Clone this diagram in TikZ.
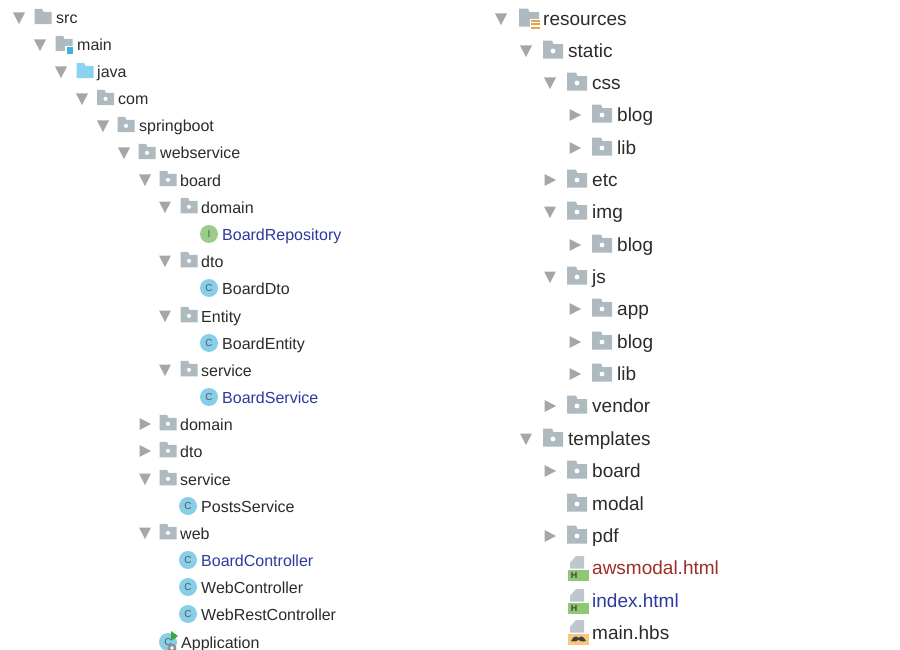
\documentclass[tikz,border=0pt]{standalone}
\usepackage{fontspec}
\setmainfont{Liberation Sans}
\definecolor{tri}{HTML}{A6A6A6}
\definecolor{fold}{HTML}{AEB9C0}
\definecolor{srcblue}{HTML}{8AD3EE}
\definecolor{cyanc}{HTML}{87CFE8}
\definecolor{greeni}{HTML}{9CCB8C}
\definecolor{txt}{HTML}{2B2B2B}
\definecolor{navy}{HTML}{2C3A9E}
\definecolor{brick}{HTML}{9C2F28}
\definecolor{htmlg}{HTML}{8FC873}
\definecolor{hbs}{HTML}{F6C67C}
\definecolor{resor}{HTML}{E2A54E}
\definecolor{runb}{HTML}{3FB0E0}
\tikzset{
  x=1pt,y=-1pt,
  ltxt/.style={anchor=west,inner sep=0pt,yshift=-1.5pt,text=txt,font=\fontsize{16}{20}\selectfont,text height=12.5pt,text depth=3.5pt},
  rtxt/.style={anchor=west,inner sep=0pt,yshift=-1.5pt,text=txt,font=\fontsize{19}{22}\selectfont,text height=14pt,text depth=4pt},
  tribody/.style={fill=tri,draw=none},
  foldbody/.style={fill=fold,draw=none}
}
% triangles (cx, cy)
\newcommand{\tdn}[2]{\fill[tribody] (#1-6,#2-5.5) -- (#1+6,#2-5.5) -- (#1,#2+6) -- cycle;}
\newcommand{\trt}[2]{\fill[tribody] (#1-5.5,#2-6) -- (#1+6,#2) -- (#1-5.5,#2+6) -- cycle;}
% plain folder shape: centre, half width, colour
\newcommand{\fshape}[4]{\fill[#4] (#1-#3,#2-0.4-0.9*#3) -- (#1-0.1*#3,#2-0.4-0.9*#3) -- (#1+0.05*#3,#2-0.4-0.55*#3) -- (#1+#3,#2-0.4-0.55*#3) -- (#1+#3,#2-0.4+0.9*#3) -- (#1-#3,#2-0.4+0.9*#3) -- cycle;}
\newcommand{\pkg}[3]{\fshape{#1}{#2}{#3}{fold}\fill[white] (#1,#2+0.1*#3) circle (0.24*#3);}
\newcommand{\cls}[4]{\fill[#3] (#1,#2) circle (9); \node[inner sep=0pt,text=black!65,font=\fontsize{10}{10}\selectfont] at (#1,#2) {#4};}
\newcommand{\doc}[4]{\fill[fold!80] (#1-3,#2-14) -- (#1+5,#2-14) -- (#1+5,#2-1.5) -- (#1-9,#2-1.5) -- (#1-9,#2-7) -- cycle;
  \fill[#3] (#1-11,#2) rectangle (#1+10,#2+11);#4}
\begin{document}
\begin{tikzpicture}
\useasboundingbox (0,0) rectangle (900,650);
\fill[white] (0,0) rectangle (900,650);
% left column
\tdn{19}{18}\fshape{43}{17}{8.5}{fold}\node[ltxt] (src) at (56,18) {src};
\tdn{40}{45}\fshape{64}{44}{8.5}{fold}\fill[white] (65,46) rectangle (74,55);\fill[runb] (66.5,47) rectangle (73,54);\node[ltxt] (main) at (77,45) {main};
\tdn{61}{72}\fshape{85}{71}{8.5}{srcblue}\node[ltxt] (java) at (97,72) {java};
\tdn{82}{99}\pkg{105.5}{98}{8.5}\node[ltxt] (com) at (118,99) {com};
\tdn{103}{126}\pkg{126}{125}{8.5}\node[ltxt] (springboot) at (139,126) {springboot};
\tdn{124}{153}\pkg{147}{152}{8.5}\node[ltxt] (webservice) at (160,153) {webservice};
\tdn{145}{180}\pkg{168}{179}{8.5}\node[ltxt] (board) at (180,180) {board};
\tdn{165}{207}\pkg{189}{206}{8.5}\node[ltxt] (domain1) at (201,207) {domain};
\cls{209}{234}{greeni}{I}\node[ltxt,text=navy] (boardrepo) at (222,234) {BoardRepository};
\tdn{165}{261}\pkg{189}{260}{8.5}\node[ltxt] (dto1) at (201,261) {dto};
\cls{209}{288}{cyanc}{C}\node[ltxt] (boarddto) at (222,288) {BoardDto};
\tdn{165}{316}\pkg{189}{315}{8.5}\node[ltxt] (entity) at (201,316) {Entity};
\cls{209}{343}{cyanc}{C}\node[ltxt] (boardentity) at (222,343) {BoardEntity};
\tdn{165}{370}\pkg{189}{369}{8.5}\node[ltxt] (service1) at (201,370) {service};
\cls{209}{397}{cyanc}{C}\node[ltxt,text=navy] (boardservice) at (222,397) {BoardService};
\trt{145}{424}\pkg{168}{423}{8.5}\node[ltxt] (domain2) at (180,424) {domain};
\trt{145}{451}\pkg{168}{450}{8.5}\node[ltxt] (dto2) at (180,451) {dto};
\tdn{145}{479}\pkg{168}{478}{8.5}\node[ltxt] (service2) at (180,479) {service};
\cls{188}{506}{cyanc}{C}\node[ltxt] (postsservice) at (201,506) {PostsService};
\tdn{145}{533}\pkg{168}{532}{8.5}\node[ltxt] (web) at (180,533) {web};
\cls{188}{560}{cyanc}{C}\node[ltxt,text=navy] (boardcontroller) at (201,560) {BoardController};
\cls{188}{587}{cyanc}{C}\node[ltxt] (webcontroller) at (201,587) {WebController};
\cls{188}{614}{cyanc}{C}\node[ltxt] (webrest) at (201,614) {WebRestController};
\cls{168}{642}{cyanc}{C}\fill[fold!80!black] (172,648) circle (4.5);\fill[white] (172,648) circle (1.8);\fill[green!60!black!80] (171,631) -- (178,636) -- (171,641) -- cycle;\node[ltxt] (application) at (181,642) {Application};
% right column
\tdn{501}{19}\fshape{529}{18}{10}{fold}\fill[white] (530,19) rectangle (541,31);\foreach \yy in {20,23.5,27}{\fill[resor] (531,\yy) rectangle (540,\yy+2);}\node[rtxt] (resources) at (543,19) {resources};
\tdn{526}{51}\pkg{553}{50}{10}\node[rtxt] (static) at (568,51) {static};
\tdn{550}{83}\pkg{577}{82}{10}\node[rtxt] (css) at (592,83) {css};
\trt{575}{115}\pkg{602}{114}{10}\node[rtxt] (cssblog) at (617,115) {blog};
\trt{575}{148}\pkg{602}{147}{10}\node[rtxt] (csslib) at (617,148) {lib};
\trt{550}{180}\pkg{577}{179}{10}\node[rtxt] (etc) at (592,180) {etc};
\tdn{550}{212}\pkg{577}{211}{10}\node[rtxt] (img) at (592,212) {img};
\trt{575}{245}\pkg{602}{244}{10}\node[rtxt] (imgblog) at (617,245) {blog};
\tdn{550}{277}\pkg{577}{276}{10}\node[rtxt] (js) at (592,277) {js};
\trt{575}{309}\pkg{602}{308}{10}\node[rtxt] (jsapp) at (617,309) {app};
\trt{575}{342}\pkg{602}{341}{10}\node[rtxt] (jsblog) at (617,342) {blog};
\trt{575}{374}\pkg{602}{373}{10}\node[rtxt] (jslib) at (617,374) {lib};
\trt{550}{406}\pkg{577}{405}{10}\node[rtxt] (vendor) at (592,406) {vendor};
\tdn{526}{439}\pkg{553}{438}{10}\node[rtxt] (templates) at (568,439) {templates};
\trt{550}{471}\pkg{577}{470}{10}\node[rtxt] (tboard) at (592,471) {board};
\pkg{577}{503}{10}\node[rtxt] (modal) at (592,504) {modal};
\trt{550}{536}\pkg{577}{535}{10}\node[rtxt] (pdf) at (592,536) {pdf};
\doc{579}{570}{htmlg}{\node[inner sep=0pt,text=black!75,font=\bfseries\fontsize{9}{9}\selectfont] at (574,575.5) {H};}\node[rtxt,text=brick] (awsmodal) at (592,568) {awsmodal.html};
\doc{579}{603}{htmlg}{\node[inner sep=0pt,text=black!75,font=\bfseries\fontsize{9}{9}\selectfont] at (574,608.5) {H};}\node[rtxt,text=navy] (index) at (592,601) {index.html};
\doc{579}{634}{hbs}{\fill[black!75] (571,641) .. controls (574,635) and (577,636) .. (578.5,638) .. controls (580,636) and (583,635) .. (586,641) .. controls (582,642) and (580,641) .. (578.5,640) .. controls (577,641) and (575,642) .. (571,641) -- cycle;}\node[rtxt] (mainhbs) at (592,633) {main.hbs};
\end{tikzpicture}
\end{document}
